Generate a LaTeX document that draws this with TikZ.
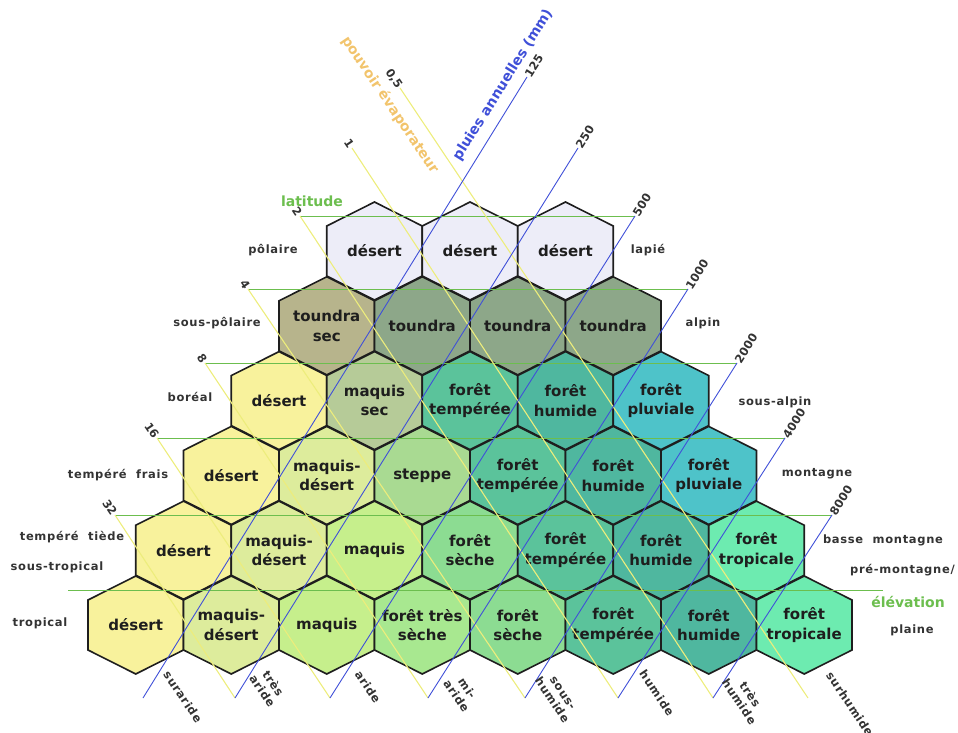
\documentclass[tikz,border=0pt]{standalone}
\usepackage{fontspec}
\setmainfont{DejaVu Sans}
\newfontfamily\espace[LetterSpace=6]{DejaVu Sans}

% couleurs des zones
\definecolor{arct}{HTML}{EDEDF8}
\definecolor{tsec}{HTML}{B7B48C}
\definecolor{toun}{HTML}{8DA789}
\definecolor{des}{HTML}{F8F29C}
\definecolor{msec}{HTML}{B6CB98}
\definecolor{mdes}{HTML}{DDEC9C}
\definecolor{stepp}{HTML}{A9DA92}
\definecolor{maq}{HTML}{C6EF8C}
\definecolor{ftsec}{HTML}{A8E890}
\definecolor{fsec}{HTML}{8CDC92}
\definecolor{ftem}{HTML}{5BC39B}
\definecolor{fhum}{HTML}{4FB79F}
\definecolor{fplu}{HTML}{4EC3C9}
\definecolor{ftro}{HTML}{6DEBB0}
% couleurs des traits
\definecolor{trait}{HTML}{1E1E1E}
\definecolor{vertlat}{HTML}{6CBE4E}
\definecolor{jaunepe}{HTML}{EDED7C}
\definecolor{bleupl}{HTML}{4050D8}
\definecolor{orangepe}{HTML}{F2C46C}
\definecolor{gristxt}{HTML}{333333}

\tikzset{
  zone/.style={fill=#1, draw=trait, line width=1.6pt, line join=miter},
  zonetxt/.style={font=\bfseries\fontsize{15}{19.5}\selectfont, align=center, text=trait, inner sep=0pt},
  lat/.style={vertlat, line width=1pt},
  evap/.style={jaunepe, line width=1.1pt},
  pluie/.style={bleupl, line width=0.9pt},
  etiq/.style={font=\espace\bfseries\fontsize{11.5}{13}\selectfont, text=gristxt, inner sep=1pt, align=center},
  chiffre/.style={font=\bfseries\fontsize{11.5}{13}\selectfont, text=gristxt, inner sep=1pt},
  titre/.style={font=\bfseries\fontsize{14}{16}\selectfont, inner sep=0pt}
}

% un hexagone : nom, centre, couleur, texte
\newcommand{\hexzone}[4]{%
  \path[zone=#3] (#2) ++( 0, -49 ) -- ++( 47.75, 24 ) -- ++( 0, 50 ) -- ++( -47.75, 24 ) -- ++( -47.75, -24 ) -- ++( 0, -50 ) -- cycle;
  \node[zonetxt] (#1) at (#2) {#4};
}

\begin{document}
\begin{tikzpicture}[x=1pt, y=-1pt]
  \useasboundingbox ( 0, 0 ) rectangle ( 958, 733 );

  % rangées d'hexagones
  \foreach \coul/\nom [count=\k from 0] in {arct/désert, arct/désert, arct/désert}
    \hexzone{r1c\k}{{374.5+95.5*\k}, 251}{\coul}{\nom};
  \foreach \coul/\nom [count=\k from 0] in {tsec/toundra\\sec, toun/toundra, toun/toundra, toun/toundra}
    \hexzone{r2c\k}{{326.75+95.5*\k}, 325.8}{\coul}{\nom};
  \foreach \coul/\nom [count=\k from 0] in {des/désert, msec/maquis\\sec, ftem/forêt\\tempérée, fhum/forêt\\humide, fplu/forêt\\pluviale}
    \hexzone{r3c\k}{{279+95.5*\k}, 400.6}{\coul}{\nom};
  \foreach \coul/\nom [count=\k from 0] in {des/désert, mdes/maquis-\\désert, stepp/steppe, ftem/forêt\\tempérée, fhum/forêt\\humide, fplu/forêt\\pluviale}
    \hexzone{r4c\k}{{231.25+95.5*\k}, 475.4}{\coul}{\nom};
  \foreach \coul/\nom [count=\k from 0] in {des/désert, mdes/maquis-\\désert, maq/maquis, fsec/forêt\\sèche, ftem/forêt\\tempérée, fhum/forêt\\humide, ftro/forêt\\tropicale}
    \hexzone{r5c\k}{{183.5+95.5*\k}, 550.2}{\coul}{\nom};
  \foreach \coul/\nom [count=\k from 0] in {des/désert, mdes/maquis-\\désert, maq/maquis, ftsec/forêt très\\sèche, fsec/forêt\\sèche, ftem/forêt\\tempérée, fhum/forêt\\humide, ftro/forêt\\tropicale}
    \hexzone{r6c\k}{{135.75+95.5*\k}, 625}{\coul}{\nom};

  % latitude (lignes vertes)
  \foreach \n/\xa/\xb/\y in {1/300/635/216, 2/248/688/289, 3/205/737/363, 4/157/785/438, 5/115/832/515, 6/68/883/590} {
    \coordinate (lg\n) at ( \xa, \y );
    \coordinate (ld\n) at ( \xb, \y );
    \draw[lat] (lg\n) -- (ld\n);
  }

  % pieds des lignes en bas
  \foreach \n/\xb in {0/143, 1/235, 2/330, 3/428, 4/525, 5/618, 6/713, 7/808}
    \coordinate (b\n) at ( \xb, 698 );
  \coordinate (e05) at ( 400, 88 );
  \coordinate (e1) at ( 352, 148 );
  \coordinate (p125) at ( 527, 77 );
  \coordinate (p250) at ( 578, 148 );

  % pouvoir évaporateur (lignes jaunes)
  \foreach \a/\b/\v in {e05/b7/{0,5}, e1/b6/1, lg1/b5/2, lg2/b4/4, lg3/b3/8, lg4/b2/16, lg5/b1/32} {
    \draw[evap] (\a) -- (\b);
    \node[chiffre, rotate=-56, anchor=east] (n\a) at (\a) {\v};
  }

  % pluies annuelles (lignes bleues)
  \foreach \a/\b/\v in {b0/p125/125, b1/p250/250, b2/ld1/500, b3/ld2/1000, b4/ld3/2000, b5/ld4/4000, b6/ld5/8000} {
    \draw[pluie] (\a) -- (\b);
    \node[chiffre, rotate=58, anchor=west] (n\b) at (\b) {\v};
  }

  % titres des axes
  \node[titre, text=orangepe, rotate=-56] (tevap) at ( 390, 105 ) {pouvoir évaporateur};
  \node[titre, text=bleupl, rotate=58] (tpluie) at ( 503, 85 ) {pluies annuelles (mm)};
  \node[titre, text=vertlat] (tlat) at ( 312, 201 ) {latitude};
  \node[titre, text=vertlat] (telev) at ( 908, 602 ) {élévation};

  % étages à gauche
  \node[etiq] (polaire) at ( 273, 250 ) {pôlaire};
  \node[etiq] (spolaire) at ( 217, 323 ) {sous-pôlaire};
  \node[etiq] (boreal) at ( 190, 397 ) {boréal};
  \node[etiq] (tfrais) at ( 118, 475 ) {tempéré~ frais};
  \node[etiq] (ttiede) at ( 72, 537 ) {tempéré~ tiède};
  \node[etiq] (stropical) at ( 57, 567 ) {sous-tropical};
  \node[etiq] (tropical) at ( 40, 623 ) {tropical};

  % étages à droite
  \node[etiq] (lapie) at ( 648, 250 ) {lapié};
  \node[etiq] (alpin) at ( 703, 323 ) {alpin};
  \node[etiq] (salpin) at ( 775, 402 ) {sous-alpin};
  \node[etiq] (montagne) at ( 817, 474 ) {montagne};
  \node[etiq] (bmontagne) at ( 883, 540 ) {basse~ montagne};
  \node[etiq, anchor=west] (premontagne) at ( 849, 570 ) {pré-montagne/};
  \node[etiq] (plaine) at ( 912, 630 ) {plaine};

  % humidité en bas
  \foreach \nm/\x/\y/\v in {h1/183/697/suraride, h2/268/687/{très\\aride}, h3/368/687/aride, h4/462/692/{mi-\\aride}, h5/557/697/{sous-\\humide}, h6/657/693/humide, h7/745/698/{très\\humide}, h8/850/704/surhumide}
    \node[etiq, rotate=-56] (\nm) at ( \x, \y ) {\v};
\end{tikzpicture}
\end{document}
